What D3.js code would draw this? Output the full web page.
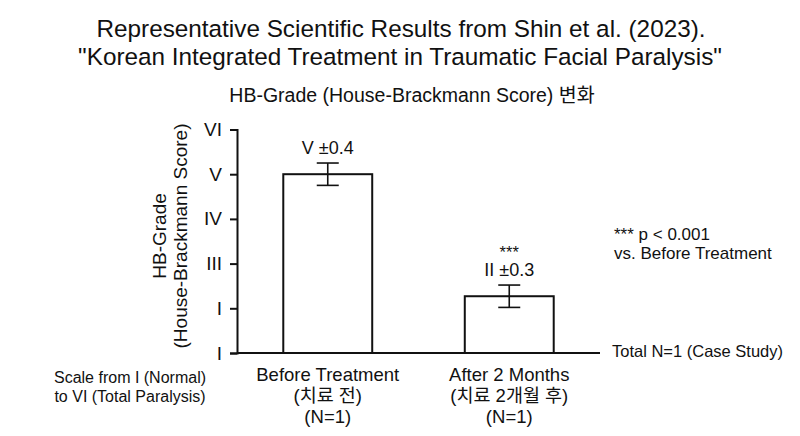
<!DOCTYPE html>
<html>
<head>
<meta charset="utf-8">
<script src="https://cdn.jsdelivr.net/npm/d3@7"></script>
<style>
  body { margin: 0; background: #fff; }
  text { font-family: "Liberation Sans", Arial, "Noto Sans CJK KR", sans-serif; fill: #111; }
</style>
</head>
<body>
<script>
// HB-Grade bar chart, before vs after treatment

var width = 800;
var height = 436;

var categories = ["Before Treatment", "After 2 Months"];
var categoryKo = ["(치료 전)", "(치료 2개월 후)"];
var categoryN = ["(N=1)", "(N=1)"];
var means = [5, 2.27];
var errors = [0.25, 0.25];
var valueLabels = ["V ±0.4", "II ±0.3"];
var sigMarks = ["", "***"];
var gradeTicks = [1, 2, 3, 4, 5, 6];
var gradeLabels = ["I", "I", "III", "IV", "V", "VI"]; // as printed in the figure

var xScale = d3.scaleBand()
  .domain(categories)
  .range([237, 600])
  .paddingInner(0.51)
  .paddingOuter(0.255);

var yScale = d3.scaleLinear()
  .domain([1, 6])
  .range([353, 129.5]);

var svg = d3.select("body")
  .append("svg")
  .attr("width", width)
  .attr("height", height);

svg.append("rect").attr("width", width).attr("height", height).attr("fill", "#fff");

// titles
svg.append("text")
  .attr("x", 401).attr("y", 37)
  .attr("text-anchor", "middle")
  .attr("font-size", 24.3)
  .text("Representative Scientific Results from Shin et al. (2023).");
svg.append("text")
  .attr("x", 400).attr("y", 65)
  .attr("text-anchor", "middle")
  .attr("font-size", 24.3)
  .text("\"Korean Integrated Treatment in Traumatic Facial Paralysis\"");
svg.append("text")
  .attr("x", 412).attr("y", 102)
  .attr("text-anchor", "middle")
  .attr("font-size", 19.5)
  .text("HB-Grade (House-Brackmann Score) 변화");

// bars
svg.selectAll("rect.bar")
  .data(categories)
  .enter()
  .append("rect")
  .attr("class", "bar")
  .attr("x", function(d){ return xScale(d); })
  .attr("y", function(d, i){ return yScale(means[i]); })
  .attr("width", xScale.bandwidth())
  .attr("height", function(d, i){ return yScale(1) - yScale(means[i]); })
  .attr("fill", "#fff")
  .attr("stroke", "#111")
  .attr("stroke-width", 2);

// error bars
var errG = svg.selectAll("g.err")
  .data(categories)
  .enter()
  .append("g")
  .attr("class", "err")
  .attr("stroke", "#111")
  .attr("stroke-width", 1.6);

errG.append("line")
  .attr("x1", function(d){ return xScale(d) + xScale.bandwidth() / 2; })
  .attr("x2", function(d){ return xScale(d) + xScale.bandwidth() / 2; })
  .attr("y1", function(d, i){ return yScale(means[i] + errors[i]); })
  .attr("y2", function(d, i){ return yScale(means[i] - errors[i]); });

[1, -1].forEach(function(s){
  errG.append("line")
    .attr("x1", function(d){ return xScale(d) + xScale.bandwidth() / 2 - 11; })
    .attr("x2", function(d){ return xScale(d) + xScale.bandwidth() / 2 + 11; })
    .attr("y1", function(d, i){ return yScale(means[i] + s * errors[i]); })
    .attr("y2", function(d, i){ return yScale(means[i] + s * errors[i]); });
});

// value labels
svg.selectAll("text.val")
  .data(categories)
  .enter()
  .append("text")
  .attr("class", "val")
  .attr("x", function(d){ return xScale(d) + xScale.bandwidth() / 2; })
  .attr("y", function(d, i){ return yScale(means[i] + errors[i]) - 9.5; })
  .attr("text-anchor", "middle")
  .attr("font-size", 18)
  .text(function(d, i){ return valueLabels[i]; });

svg.selectAll("text.sig")
  .data(categories)
  .enter()
  .append("text")
  .attr("class", "sig")
  .attr("x", function(d){ return xScale(d) + xScale.bandwidth() / 2; })
  .attr("y", function(d, i){ return yScale(means[i] + errors[i]) - 27.5; })
  .attr("text-anchor", "middle")
  .attr("font-size", 16.5)
  .text(function(d, i){ return sigMarks[i]; });

// axes
var yAxis = d3.axisLeft(yScale)
  .tickValues(gradeTicks)
  .tickFormat(function(d, i){ return gradeLabels[i]; })
  .tickSize(7)
  .tickPadding(8);

var yG = svg.append("g")
  .attr("transform", "translate(237,0)")
  .call(yAxis);
yG.select(".domain").attr("stroke", "#111").attr("stroke-width", 2);
yG.selectAll(".tick line").attr("stroke", "#111").attr("stroke-width", 2);
yG.selectAll(".tick text").attr("font-size", 19).attr("font-family", null).style("fill", "#111");

svg.append("line")
  .attr("x1", 237).attr("x2", 600)
  .attr("y1", yScale(1)).attr("y2", yScale(1))
  .attr("stroke", "#111").attr("stroke-width", 2);

// category labels
var catG = svg.selectAll("g.cat")
  .data(categories)
  .enter()
  .append("g")
  .attr("class", "cat")
  .attr("transform", function(d){ return "translate(" + (xScale(d) + xScale.bandwidth() / 2) + ",0)"; });
catG.append("text").attr("y", 381).attr("text-anchor", "middle").attr("font-size", 18.5)
  .text(function(d){ return d; });
catG.append("text").attr("y", 402).attr("text-anchor", "middle").attr("font-size", 18.5)
  .text(function(d, i){ return categoryKo[i]; });
catG.append("text").attr("y", 423).attr("text-anchor", "middle").attr("font-size", 18.5)
  .text(function(d, i){ return categoryN[i]; });

// y axis title
var yTitle = svg.append("text")
  .attr("transform", "translate(166,236) rotate(-90)")
  .attr("text-anchor", "middle")
  .attr("font-size", 19);
yTitle.append("tspan").attr("x", 0).attr("dy", 0).text("HB-Grade");
yTitle.append("tspan").attr("x", 0).attr("dy", 21).text("(House-Brackmann Score)");

// notes
svg.append("text").attr("x", 130).attr("y", 383).attr("text-anchor", "middle").attr("font-size", 16)
  .text("Scale from I (Normal)");
svg.append("text").attr("x", 130).attr("y", 402).attr("text-anchor", "middle").attr("font-size", 16)
  .text("to VI (Total Paralysis)");
svg.append("text").attr("x", 614).attr("y", 240).attr("font-size", 17).text("*** p < 0.001");
svg.append("text").attr("x", 614).attr("y", 259).attr("font-size", 17).text("vs. Before Treatment");
svg.append("text").attr("x", 612).attr("y", 357).attr("font-size", 16.5).text("Total N=1 (Case Study)");
</script>
</body>
</html>
